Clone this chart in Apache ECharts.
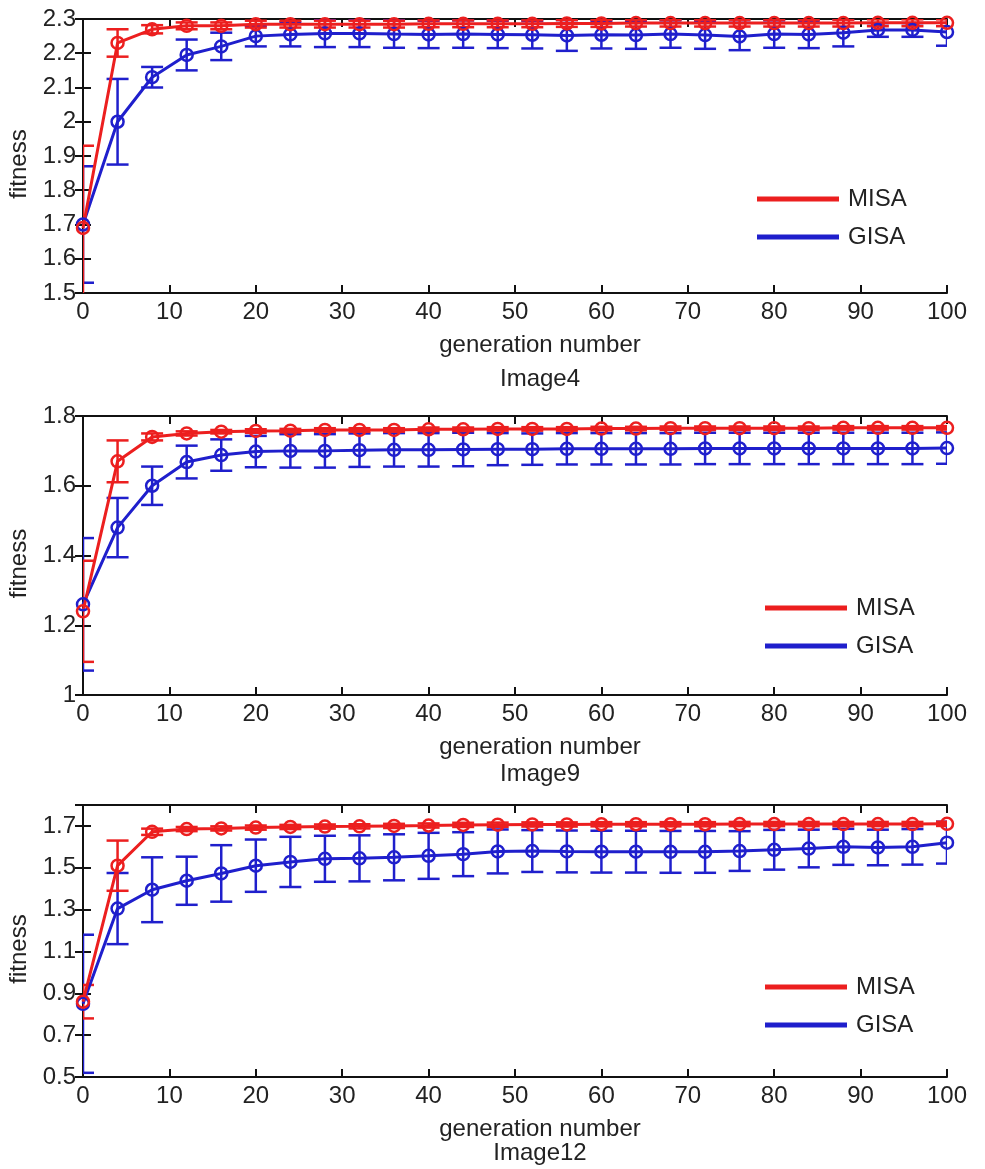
<!DOCTYPE html>
<html>
<head>
<meta charset="utf-8">
<script src="https://cdn.jsdelivr.net/npm/echarts@6/dist/echarts.min.js"></script>
<style>
  html, body { margin: 0; padding: 0; background: #fff; }
  #chart { width: 985px; height: 1169px; }
</style>
</head>
<body>
<div id="chart"></div>
<script>
// ---------- data ----------
const gens = [0, 4, 8, 12, 16, 20, 24, 28, 32, 36, 40, 44, 48, 52, 56, 60, 64, 68, 72, 76, 80, 84, 88, 92, 96, 100];
const xTicks = [0, 10, 20, 30, 40, 50, 60, 70, 80, 90, 100];
const seriesNames = ['MISA', 'GISA'];
const panelTitles = ['Image4', 'Image9', 'Image12'];

// Image4
const misa4    = [1.69, 2.23, 2.27, 2.28, 2.28, 2.285, 2.285, 2.285, 2.285, 2.285, 2.286, 2.286, 2.286, 2.286, 2.287, 2.287, 2.288, 2.288, 2.288, 2.288, 2.288, 2.288, 2.288, 2.289, 2.289, 2.289];
const misa4Err = [0.24, 0.04, 0.012, 0.01, 0.01, 0.01, 0.01, 0.01, 0.01, 0.01, 0.01, 0.01, 0.01, 0.01, 0.01, 0.01, 0.01, 0.01, 0.01, 0.01, 0.01, 0.01, 0.01, 0.01, 0.01, 0.01];
const gisa4    = [1.70, 2.00, 2.13, 2.195, 2.22, 2.25, 2.255, 2.258, 2.258, 2.256, 2.255, 2.256, 2.255, 2.254, 2.252, 2.254, 2.253, 2.256, 2.253, 2.249, 2.256, 2.255, 2.26, 2.268, 2.268, 2.262];
const gisa4Err = [0.17, 0.125, 0.03, 0.045, 0.04, 0.03, 0.035, 0.04, 0.04, 0.04, 0.04, 0.04, 0.04, 0.04, 0.045, 0.04, 0.04, 0.04, 0.04, 0.04, 0.04, 0.04, 0.04, 0.02, 0.02, 0.04];

// Image9
const misa9    = [1.24, 1.67, 1.74, 1.75, 1.755, 1.757, 1.758, 1.76, 1.76, 1.76, 1.762, 1.762, 1.763, 1.763, 1.763, 1.764, 1.764, 1.765, 1.765, 1.765, 1.765, 1.765, 1.766, 1.766, 1.766, 1.766];
const misa9Err = [0.145, 0.06, 0.01, 0.006, 0.005, 0.005, 0.005, 0.005, 0.005, 0.005, 0.005, 0.005, 0.005, 0.005, 0.005, 0.005, 0.005, 0.005, 0.005, 0.005, 0.005, 0.005, 0.005, 0.005, 0.005, 0.005];
const gisa9    = [1.26, 1.48, 1.60, 1.668, 1.688, 1.698, 1.70, 1.70, 1.702, 1.703, 1.703, 1.704, 1.705, 1.705, 1.706, 1.706, 1.706, 1.706, 1.707, 1.707, 1.707, 1.707, 1.707, 1.707, 1.707, 1.708];
const gisa9Err = [0.19, 0.085, 0.055, 0.047, 0.045, 0.045, 0.048, 0.048, 0.048, 0.048, 0.048, 0.048, 0.046, 0.045, 0.045, 0.045, 0.045, 0.045, 0.045, 0.045, 0.045, 0.045, 0.045, 0.045, 0.045, 0.045];

// Image12
const misa12    = [0.86, 1.51, 1.672, 1.685, 1.688, 1.692, 1.695, 1.697, 1.698, 1.70, 1.702, 1.705, 1.706, 1.707, 1.707, 1.708, 1.708, 1.708, 1.708, 1.709, 1.709, 1.709, 1.709, 1.709, 1.709, 1.71];
const misa12Err = [0.08, 0.12, 0.015, 0.01, 0.01, 0.01, 0.01, 0.01, 0.01, 0.01, 0.01, 0.01, 0.01, 0.01, 0.01, 0.01, 0.01, 0.01, 0.01, 0.01, 0.01, 0.01, 0.01, 0.01, 0.01, 0.01];
const gisa12    = [0.85, 1.305, 1.395, 1.438, 1.473, 1.51, 1.528, 1.543, 1.545, 1.55, 1.557, 1.565, 1.578, 1.58, 1.578, 1.577, 1.577, 1.576, 1.576, 1.58, 1.586, 1.592, 1.60, 1.597, 1.60, 1.62];
const gisa12Err = [0.33, 0.17, 0.155, 0.115, 0.135, 0.125, 0.12, 0.11, 0.11, 0.11, 0.11, 0.105, 0.105, 0.10, 0.10, 0.10, 0.10, 0.10, 0.10, 0.095, 0.095, 0.09, 0.086, 0.085, 0.085, 0.10];

// y-axis ranges
const yMins = [1.5, 1.0, 0.5];
const yMaxs = [2.3, 1.8, 1.8];
const yIntervals = [0.1, 0.2, 0.2];

// ---------- layout / style ----------
const RED = '#ec1f1f';
const BLUE = '#1f1fcc';
const FONT = 'Liberation Sans, Arial, Helvetica, sans-serif';
const FS = 24;
const TXT = '#222';
const gridLayout = [
  { top: 19, height: 274 },
  { top: 416, height: 279 },
  { top: 805, height: 272 }
];
const legendPos = [
  { left: 752, top: 182 },
  { left: 760, top: 591 },
  { left: 760, top: 970 }
];
const titleY = [379, 774, 1153];

const panels = [
  { misa: misa4, misaErr: misa4Err, gisa: gisa4, gisaErr: gisa4Err },
  { misa: misa9, misaErr: misa9Err, gisa: gisa9, gisaErr: gisa9Err },
  { misa: misa12, misaErr: misa12Err, gisa: gisa12, gisaErr: gisa12Err }
];

function errRender(color) {
  return function (params, api) {
    const x = api.value(0), lo = api.value(1), hi = api.value(2);
    const a = api.coord([x, lo]);
    const b = api.coord([x, hi]);
    const hw = 11;
    const style = { stroke: color, lineWidth: 2.5, fill: null };
    return {
      type: 'group',
      children: [
        { type: 'line', shape: { x1: a[0], y1: a[1], x2: b[0], y2: b[1] }, style: style },
        { type: 'line', shape: { x1: a[0] - hw, y1: a[1], x2: a[0] + hw, y2: a[1] }, style: style },
        { type: 'line', shape: { x1: b[0] - hw, y1: b[1], x2: b[0] + hw, y2: b[1] }, style: style }
      ]
    };
  };
}

const grid = [], xAxis = [], yAxis = [], series = [], legend = [], graphic = [];

panels.forEach(function (p, i) {
  grid.push({ left: 83, right: 38, top: gridLayout[i].top, height: gridLayout[i].height,
    containLabel: false, outerBoundsMode: 'none' });
  const axLine = { show: true, lineStyle: { color: '#111', width: 2 } };
  const axTick = { show: true, inside: true, length: 8, lineStyle: { color: '#111', width: 2 } };
  const yMaxVal = yMaxs[i];
  xAxis.push({
    type: 'value', gridIndex: i, position: 'bottom', min: 0, max: 100, interval: 10,
    axisLine: axLine, axisTick: axTick, splitLine: { show: false },
    axisLabel: { fontSize: FS, color: TXT, fontFamily: FONT, margin: 7,
      formatter: function (v) { return xTicks.indexOf(v) >= 0 ? String(v) : ''; } },
    name: 'generation number', nameLocation: 'middle', nameGap: 40,
    nameTextStyle: { fontSize: FS, color: TXT, fontFamily: FONT, padding: [0, 0, 0, 50] }
  });
  xAxis.push({
    type: 'value', gridIndex: i, position: 'top', min: 0, max: 100, interval: 10,
    axisLine: axLine, axisTick: axTick, splitLine: { show: false }, axisLabel: { show: false }
  });
  yAxis.push({
    type: 'value', gridIndex: i, position: 'left', min: yMins[i], max: yMaxVal, interval: yIntervals[i],
    axisLine: axLine, axisTick: axTick, splitLine: { show: false },
    axisLabel: { fontSize: FS, color: TXT, fontFamily: FONT, margin: 7,
      formatter: function (v) {
        if (i === 2 && Math.abs(v - yMaxVal) < 1e-9) return '';
        return String(Math.round(v * 10) / 10);
      } },
    name: 'fitness', nameLocation: 'middle', nameGap: 51, nameRotate: 90,
    nameTextStyle: { fontSize: FS, color: TXT, fontFamily: FONT, padding: [0, 16, 0, 0] }
  });
  yAxis.push({
    type: 'value', gridIndex: i, position: 'right', min: yMins[i], max: yMaxVal, interval: yIntervals[i],
    axisLine: axLine, axisTick: axTick, splitLine: { show: false }, axisLabel: { show: false }
  });

  const xi = i * 2, yi = i * 2;
  const lineSeries = function (name, vals, color) {
    return {
      type: 'line', name: name, xAxisIndex: xi, yAxisIndex: yi,
      data: gens.map(function (g, k) { return [g, vals[k]]; }),
      symbol: 'circle', symbolSize: 12,
      itemStyle: { color: 'rgba(255,255,255,0)', borderColor: color, borderWidth: 2.5 },
      lineStyle: { color: color, width: 3 },
      emphasis: { disabled: true }, animation: false, z: 3
    };
  };
  const errSeries = function (name, vals, errs, color) {
    return {
      type: 'custom', name: name + ' error', xAxisIndex: xi, yAxisIndex: yi,
      data: gens.map(function (g, k) { return [g, vals[k] - errs[k], vals[k] + errs[k]]; }),
      encode: { x: 0, y: [1, 2] }, clip: true,
      renderItem: errRender(color), animation: false, z: 2
    };
  };
  series.push(errSeries('GISA', p.gisa, p.gisaErr, BLUE));
  series.push(lineSeries('GISA', p.gisa, BLUE));
  series.push(errSeries('MISA', p.misa, p.misaErr, RED));
  series.push(lineSeries('MISA', p.misa, RED));

  legend.push({
    orient: 'vertical', left: legendPos[i].left, top: legendPos[i].top,
    itemWidth: 80, itemHeight: 3, itemGap: 14, icon: 'rect',
    selectedMode: false,
    textStyle: { fontSize: FS, color: TXT, fontFamily: FONT, lineHeight: 24, padding: [0, 0, 0, 5] },
    data: [
      { name: seriesNames[0], itemStyle: { color: RED } },
      { name: seriesNames[1], itemStyle: { color: BLUE } }
    ]
  });

  graphic.push({
    type: 'text', x: 540, y: titleY[i],
    style: { text: panelTitles[i], fontSize: FS, fill: TXT, fontFamily: FONT, textAlign: 'center', textVerticalAlign: 'middle' }
  });
});

const chart = echarts.init(document.getElementById('chart'), null, { renderer: 'canvas' });
chart.setOption({
  backgroundColor: '#fff',
  animation: false,
  grid: grid,
  xAxis: xAxis,
  yAxis: yAxis,
  legend: legend,
  series: series,
  graphic: graphic
});
</script>
</body>
</html>
